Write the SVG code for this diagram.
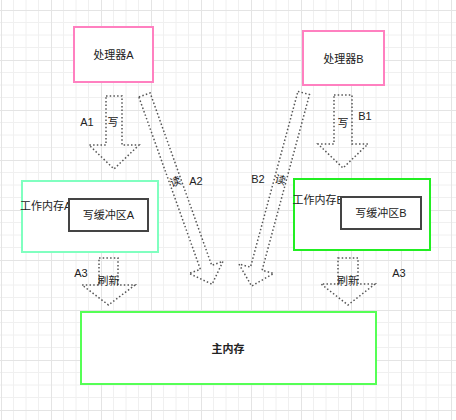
<svg xmlns="http://www.w3.org/2000/svg" width="456" height="420" viewBox="0 0 456 420">
<defs>
<pattern id="grid" patternUnits="userSpaceOnUse" x="1" y="10" width="50" height="50">
<path d="M12.5 0V50M25 0V50M37.5 0V50M0 12.5H50M0 25H50M0 37.5H50" stroke="#f0f0f0" stroke-width="1" fill="none"/>
<path d="M0.5 0V50M0 0.5H50" stroke="#e4e4e4" stroke-width="1" fill="none"/>
</pattern>
</defs>
<style>
text{font-family:"Liberation Sans","Noto Sans CJK SC",sans-serif;font-size:11px;fill:#222;dominant-baseline:central}
.c{text-anchor:middle}
.arr{fill:none;stroke:#555;stroke-width:1.5;stroke-dasharray:1.5 2.2}
.box{fill:#fff;stroke-width:2}
</style>
<rect width="456" height="420" fill="#fff"/>
<rect width="456" height="420" fill="url(#grid)"/>

<g id="cpuA"><rect class="box" x="74" y="27" width="79" height="55" stroke="#ff80c0"/><text class="c" x="113.5" y="54.5">处理器A</text></g>
<g id="cpuB"><rect class="box" x="303" y="31" width="81" height="54" stroke="#ff80c0"/><text class="c" x="343.5" y="59">处理器B</text></g>

<g id="memA"><rect class="box" x="22" y="181" width="136" height="71" stroke="#80ffc0"/><text x="20" y="206">工作内存A</text></g>
<g id="bufA"><rect class="box" x="69" y="199" width="79" height="32" stroke="#444"/><text class="c" x="108.5" y="215">写缓冲区A</text></g>

<g id="memB"><rect class="box" x="294" y="179" width="136" height="71" stroke="#22ee22"/><text x="292.5" y="200">工作内存B</text></g>
<g id="bufB"><rect class="box" x="341" y="197" width="80" height="32" stroke="#444"/><text class="c" x="381" y="213">写缓冲区B</text></g>

<g id="main"><rect class="box" x="81" y="312" width="295" height="72" stroke="#55ff55"/><text class="c" x="228" y="348.5" font-weight="bold">主内存</text></g>

<g id="connectors">
<g id="A1"><polygon class="arr" points="106,96 122,96 122,145 139,145 114,169 89,145 106,145"/><text class="c" x="87" y="122">A1</text><text class="c" x="113" y="122">写</text></g>
<g id="B1"><polygon class="arr" points="334,95 352,95 352,144 368,144 343,168 318,144 334,144"/><text class="c" x="365" y="116">B1</text><text class="c" x="343" y="123">写</text></g>
<g id="A2"><g transform="translate(144.5,95) rotate(-19.65)"><polygon class="arr" points="-6,0 6,0 6,183 18,183 0,201 -18,183 -6,183"/><text class="c" x="0" y="92">读</text></g><text class="c" x="196" y="181">A2</text></g>
<g id="B2"><g transform="translate(303.7,93) rotate(15.1)"><polygon class="arr" points="-6,0 6,0 6,182 18,182 0,200 -18,182 -6,182"/><text class="c" x="0" y="90">读</text></g><text class="c" x="258" y="179">B2</text></g>
<g id="A3L"><polygon class="arr" points="99,258 118,258 118,285 135,285 108.5,305 82,285 99,285"/><text class="c" x="81" y="273">A3</text><text class="c" x="108.5" y="281">刷新</text></g>
<g id="A3R"><polygon class="arr" points="338,258 358,258 358,284 375,284 348,305 321,284 338,284"/><text class="c" x="399" y="273">A3</text><text class="c" x="348" y="281">刷新</text></g>
</g>
</svg>
